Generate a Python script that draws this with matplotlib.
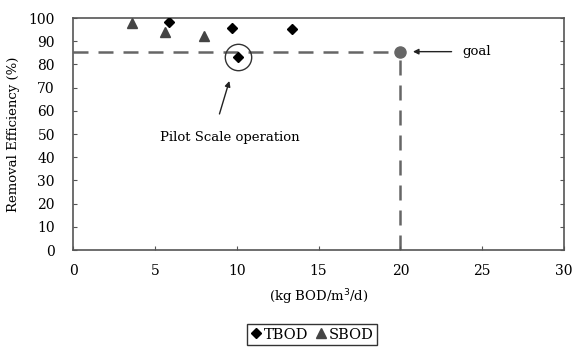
import numpy as np
import matplotlib
matplotlib.use('Agg')
import matplotlib.pyplot as plt

# data
tbod_x = [5.85, 9.7, 10.1, 13.4]
tbod_y = [98.4, 95.7, 83.3, 95.4]
sbod_x = [3.6, 5.65, 8.0]
sbod_y = [97.7, 94.1, 92.2]
goal_x = 20
goal_y = 85.5

plt.rcParams['font.family'] = 'DejaVu Serif'

fig = plt.figure(figsize=(5.73, 3.47), dpi=100)
ax = fig.add_axes([0.1274, 0.2795, 0.8569, 0.6686])

grey = '#555555'
dash = '#666666'

# goal guide lines
ax.plot([0, goal_x], [goal_y, goal_y], ls=(0, (6, 4)), color=dash, lw=1.8, zorder=1)
ax.plot([goal_x, goal_x], [0, goal_y], ls=(0, (6, 4)), color=dash, lw=1.8, zorder=1)
ax.plot(goal_x, goal_y, 'o', color='#666666', ms=8, zorder=3)

ax.plot(tbod_x, tbod_y, 'D', color='black', ms=5, ls='none', label='TBOD', zorder=3)
ax.plot(sbod_x, sbod_y, '^', color='#444444', ms=7, ls='none', label='SBOD', zorder=3)

# circle around the pilot scale point
ax.plot(tbod_x[2], tbod_y[2], 'o', mfc='none', mec='#333333', ms=19, mew=1.0, zorder=3)

ax.annotate('', xy=(9.6, 74), xytext=(8.9, 57.5),
            arrowprops=dict(arrowstyle='-|>', color='#222222', lw=1.0, mutation_scale=8))
ax.text(9.6, 48.5, 'Pilot Scale operation', ha='center', va='center', fontsize=9.5)

ax.annotate('', xy=(20.6, goal_y), xytext=(23.3, goal_y),
            arrowprops=dict(arrowstyle='-|>', color='#222222', lw=1.0, mutation_scale=8))
ax.text(23.8, goal_y, 'goal', ha='left', va='center', fontsize=9.5)

ax.set_xlim(0, 30)
ax.set_ylim(0, 100)
ax.set_xticks(np.arange(0, 31, 5))
ax.set_yticks(np.arange(0, 101, 10))
ax.tick_params(direction='in', length=3, labelsize=10, color=grey, right=True)
ax.tick_params(axis='x', pad=10)
ax.tick_params(axis='y', pad=13)
for s in ax.spines.values():
    s.set_color(grey)
    s.set_linewidth(1.2)

ax.set_xlabel('(kg BOD/m$^3$/d)', fontsize=9.5, labelpad=7)
ax.set_ylabel('Removal Efficiency (%)', fontsize=9.5, labelpad=6)

leg = fig.legend(loc='center', bbox_to_anchor=(0.544, 0.036), ncol=2, fontsize=10.5,
                 frameon=True, fancybox=False, edgecolor='black', handlelength=0.8,
                 handletextpad=0.1, columnspacing=0.5, borderpad=0.25, markerscale=1.0)
leg.get_frame().set_linewidth(1.0)

fig.savefig('out.png', dpi=100)
